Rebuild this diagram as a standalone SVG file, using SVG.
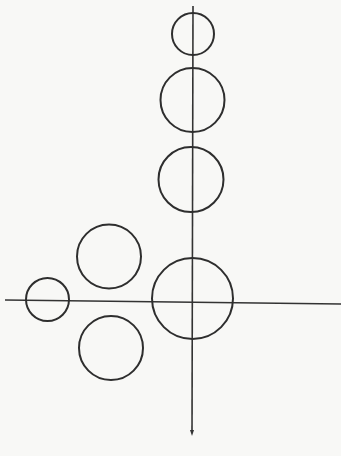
<svg xmlns="http://www.w3.org/2000/svg" width="341" height="456" viewBox="0 0 341 456">
<defs>
<style>
.c{fill:none;stroke:#2e2e2e;stroke-width:2}
.ax{fill:none;stroke:#333;stroke-width:1.6}
</style>
<marker id="arr" markerWidth="6" markerHeight="6" refX="3" refY="3" orient="auto" markerUnits="userSpaceOnUse">
<path d="M0,1 L6,3 L0,5 Z" fill="#333"/>
</marker>
</defs>
<rect width="341" height="456" fill="#f8f8f6"/>
<g id="connectors">
<line class="ax" x1="5" y1="300" x2="341" y2="304"/>
<line class="ax" x1="193" y1="6" x2="192" y2="433" marker-end="url(#arr)"/>
</g>
<g id="n1"><circle class="c" cx="193" cy="34" r="21"/></g>
<g id="n2"><circle class="c" cx="192.5" cy="100" r="32"/></g>
<g id="n3"><circle class="c" cx="191" cy="179.5" r="32.5"/></g>
<g id="n4"><circle class="c" cx="192.5" cy="298.5" r="40.5"/></g>
<g id="n5"><circle class="c" cx="109" cy="256.5" r="32"/></g>
<g id="n6"><circle class="c" cx="111" cy="348" r="32"/></g>
<g id="n7"><circle class="c" cx="47.5" cy="299.5" r="21.5"/></g>
</svg>
